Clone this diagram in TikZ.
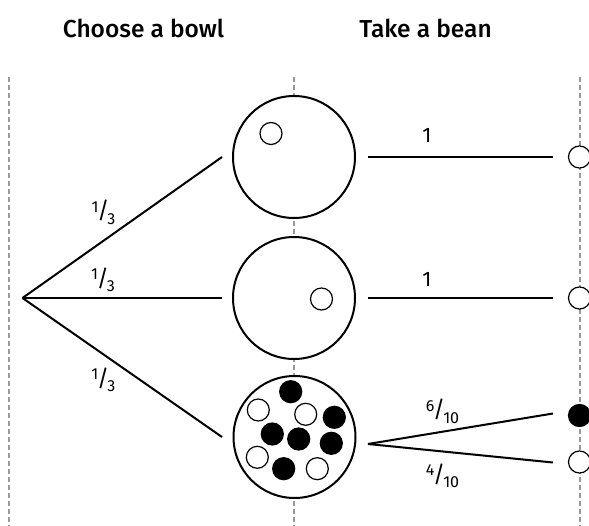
\documentclass[tikz,border=0pt]{standalone}
\usepackage{fontspec}
\setmainfont{Fira Sans}
\newfontfamily\hdrfont{Fira Sans Medium}
\newcommand{\myfrac}[2]{\raisebox{6.5pt}{\fontsize{16}{16}\selectfont #1}\kern-1.2pt{\fontsize{23}{23}\selectfont /}\kern-1.8pt\raisebox{-5.5pt}{\fontsize{16}{16}\selectfont #2}}
\begin{document}
\begin{tikzpicture}[x=1pt,y=-1pt,
  guide/.style={draw=black!40, line width=2pt, dash pattern=on 5pt off 3pt},
  bowl/.style={circle, draw, line width=2pt, fill=white, minimum size=122pt, inner sep=0pt},
  wbean/.style={circle, draw, line width=1.2pt, fill=white, minimum size=22pt, inner sep=0pt},
  bbean/.style={circle, draw, line width=1.2pt, fill=black, minimum size=22pt, inner sep=0pt},
  branch/.style={line width=2pt},
  lab/.style={font=\fontsize{21}{24}\selectfont, inner sep=0pt},
  hdr/.style={font=\hdrfont\fontsize{24.5}{28}\selectfont, inner sep=0pt}
]
\useasboundingbox (0,0) rectangle (589,526);
% guides
\draw[guide] (9,77) -- (9,526);
\draw[guide] (294,77) -- (294,526);
\draw[guide] (579.5,77) -- (579.5,526);
% headers
\node[hdr] (h1) at (143.5,28) {Choose a bowl};
\node[hdr] (h2) at (425.5,28) {Take a bean};
% root and bowls
\coordinate (root) at (22.5,298);
\node[bowl] (b1) at (294,157) {};
\node[bowl] (b2) at (294,298) {};
\node[bowl] (b3) at (294.5,437) {};
\coordinate (e1) at (222,157);
\coordinate (e2) at (222,298);
\coordinate (e3) at (222,437);
\draw[branch] (root) -- (e1);
\draw[branch] (root) -- (e2);
\draw[branch] (root) -- (e3);
\node[lab] (l1) at (103.5,212.5) {\myfrac{1}{3}};
\node[lab] (l2) at (103,280) {\myfrac{1}{3}};
\node[lab] (l3) at (103.3,380) {\myfrac{1}{3}};
% beans in bowls
\node[wbean] (p1) at (271,133.5) {};
\node[wbean] (p2) at (321.5,299) {};
\node[bbean] (q1) at (290.7,391.7) {};
\node[wbean] (q2) at (258.3,410) {};
\node[wbean] (q3) at (305.7,414.3) {};
\node[bbean] (q4) at (334.3,417.3) {};
\node[bbean] (q5) at (272.3,434) {};
\node[bbean] (q6) at (298.7,439) {};
\node[bbean] (q7) at (331.3,443.3) {};
\node[wbean] (q8) at (257.3,457.3) {};
\node[bbean] (q9) at (283.7,468.7) {};
\node[wbean] (q10) at (317.3,468.7) {};
% outcomes
\node[wbean] (o1) at (579.5,157) {};
\node[wbean] (o2) at (579.5,298) {};
\node[bbean] (o3) at (579.5,415.5) {};
\node[wbean] (o4) at (579.5,462) {};
\coordinate (s1) at (368,157);
\coordinate (t1) at (553,157);
\coordinate (s2) at (368,298);
\coordinate (t2) at (553,298);
\coordinate (fork) at (368,444);
\coordinate (t3) at (553,413.5);
\coordinate (t4) at (553,462.5);
\draw[branch] (s1) -- (t1);
\draw[branch] (s2) -- (t2);
\draw[branch] (fork) -- (t3);
\draw[branch] (fork) -- (t4);
\node[lab] (m1) at (427,135.5) {1};
\node[lab] (m2) at (427,279) {1};
\node[lab] (m3) at (442.5,411.5) {\myfrac{6}{10}};
\node[lab] (m4) at (442.5,476) {\myfrac{4}{10}};
\end{tikzpicture}
\end{document}
